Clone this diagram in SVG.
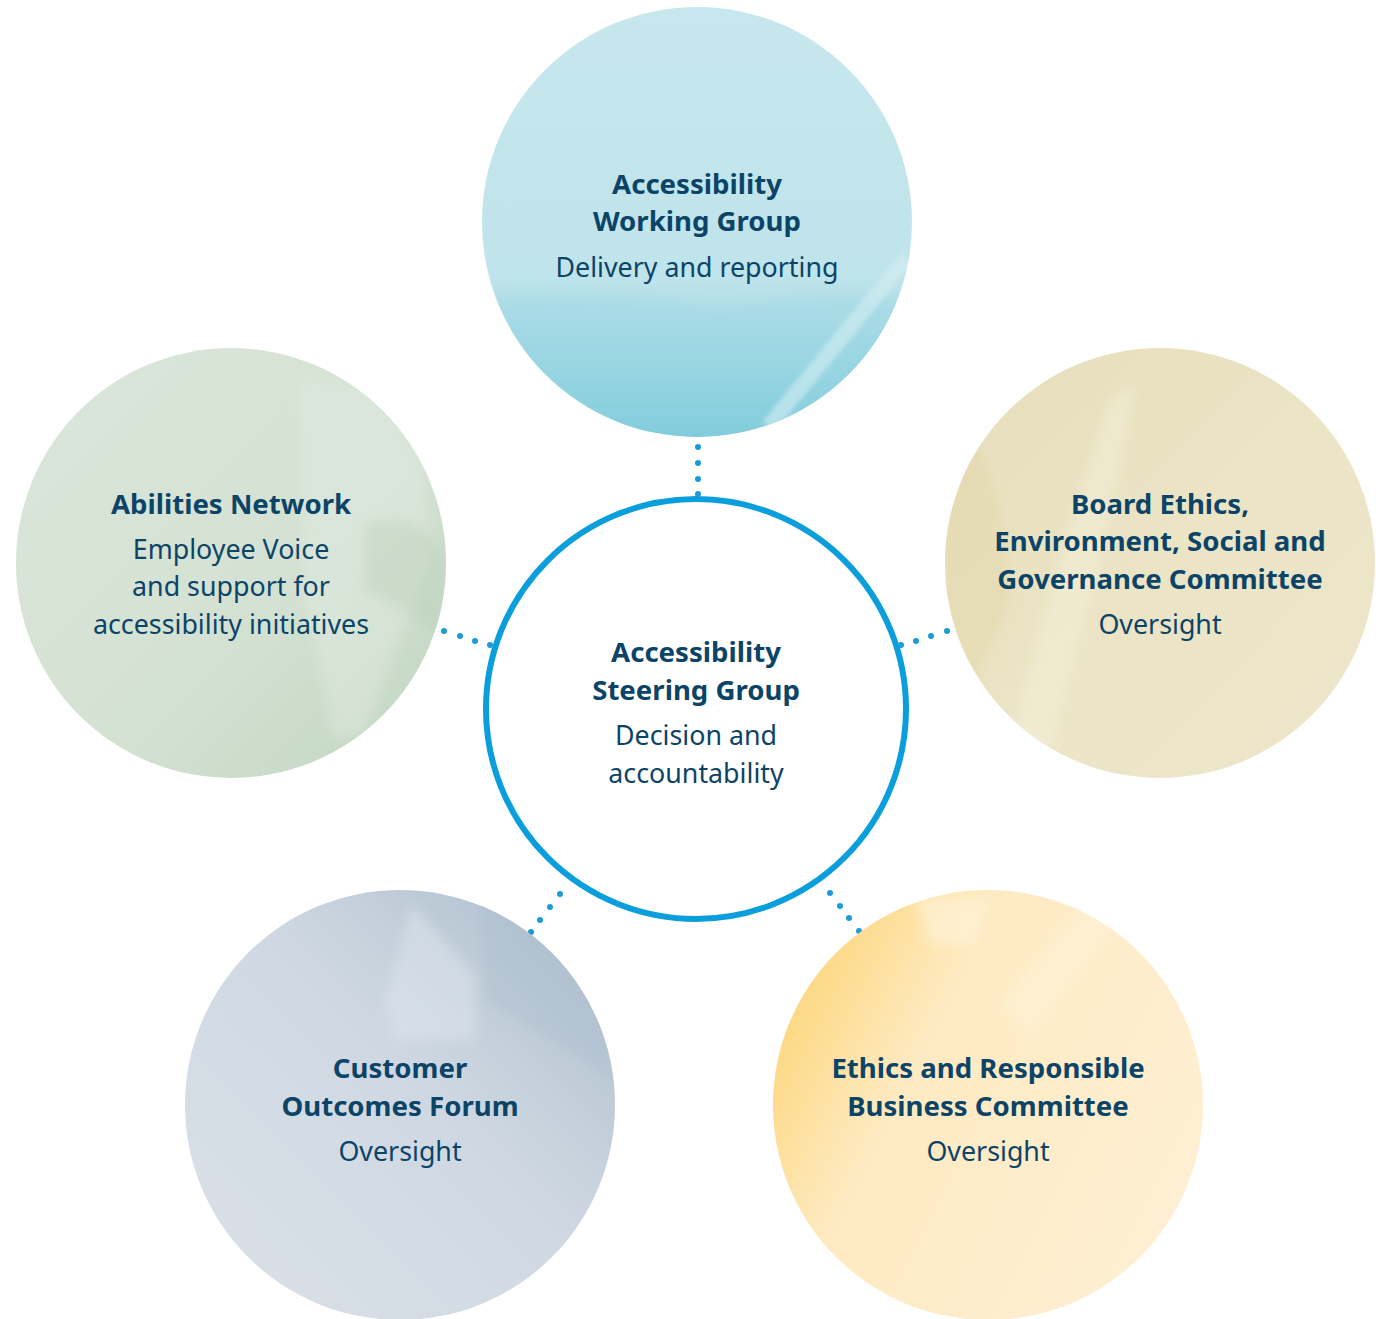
<svg xmlns="http://www.w3.org/2000/svg" width="1382" height="1319" viewBox="0 0 1382 1319">
<style>
.t{font-family:"Noto Sans","Open Sans","Liberation Sans",sans-serif;fill:#0c4468;text-anchor:middle;font-size:26.8px}
.b{font-weight:700;font-size:27.6px}
.dot{fill:#1b9bd7}
</style>
<defs>
<filter id="soft" x="-20%" y="-20%" width="140%" height="140%"><feGaussianBlur stdDeviation="6"/></filter>
<filter id="soft2" x="-20%" y="-20%" width="140%" height="140%"><feGaussianBlur stdDeviation="2"/></filter>
<linearGradient id="gTop" x1="0" y1="0" x2="0" y2="1">
<stop offset="0" stop-color="#c6e7ed"/><stop offset="0.62" stop-color="#c0e4eb"/><stop offset="0.72" stop-color="#aedde7"/><stop offset="1" stop-color="#76c8da"/>
</linearGradient>
<linearGradient id="gLeft" x1="0" y1="0" x2="1" y2="1">
<stop offset="0" stop-color="#dbe6da"/><stop offset="0.6" stop-color="#d3e1d2"/><stop offset="1" stop-color="#c0d5c0"/>
</linearGradient>
<linearGradient id="gRight" x1="0" y1="0" x2="1" y2="1">
<stop offset="0" stop-color="#e6debb"/><stop offset="0.5" stop-color="#ebe4c5"/><stop offset="1" stop-color="#ede6cb"/>
</linearGradient>
<linearGradient id="gBL" x1="1" y1="0" x2="0" y2="1">
<stop offset="0" stop-color="#a9bccb"/><stop offset="0.45" stop-color="#cfd8e2"/><stop offset="1" stop-color="#dbe1e8"/>
</linearGradient>
<linearGradient id="gBR" x1="0" y1="0.3" x2="1" y2="0.8">
<stop offset="0" stop-color="#fdd77e"/><stop offset="0.3" stop-color="#feeac2"/><stop offset="1" stop-color="#fef0d5"/>
</linearGradient>
<clipPath id="cTop"><circle cx="697" cy="222" r="215"/></clipPath>
<clipPath id="cLeft"><circle cx="231" cy="563" r="215"/></clipPath>
<clipPath id="cRight"><circle cx="1160" cy="563" r="215"/></clipPath>
<clipPath id="cBL"><circle cx="400" cy="1105" r="215"/></clipPath>
<clipPath id="cBR"><circle cx="988" cy="1105" r="215"/></clipPath>
</defs>
<rect width="1382" height="1319" fill="#ffffff"/>

<g id="connectors">
<circle class="dot" cx="698" cy="447" r="3"/><circle class="dot" cx="698" cy="463" r="3"/><circle class="dot" cx="698" cy="479" r="3"/><circle class="dot" cx="698" cy="494" r="3"/>
<circle class="dot" cx="444" cy="631" r="3"/><circle class="dot" cx="460" cy="636" r="3"/><circle class="dot" cx="475" cy="641" r="3"/><circle class="dot" cx="490" cy="645" r="3"/>
<circle class="dot" cx="901" cy="645" r="3"/><circle class="dot" cx="916" cy="641" r="3"/><circle class="dot" cx="931" cy="636" r="3"/><circle class="dot" cx="947" cy="631" r="3"/>
<circle class="dot" cx="531" cy="932" r="3"/><circle class="dot" cx="540" cy="920" r="3"/><circle class="dot" cx="550" cy="907" r="3"/><circle class="dot" cx="560" cy="894" r="3"/>
<circle class="dot" cx="830" cy="893" r="3"/><circle class="dot" cx="840" cy="906" r="3"/><circle class="dot" cx="849" cy="918" r="3"/><circle class="dot" cx="859" cy="931" r="3"/>
</g>

<g id="node-working-group">
<circle cx="697" cy="222" r="215" fill="url(#gTop)"/>
<g clip-path="url(#cTop)">
<path d="M482 300 Q600 285 720 310 Q830 290 913 300 L913 440 L482 440 Z" fill="#9ad6e3" opacity="0.35" filter="url(#soft)"/>
<path d="M762 422 L902 252 L912 264 L776 430 Z" fill="#d4eef3" opacity="0.6" filter="url(#soft2)"/>
</g>
<text class="t b" x="697" y="194">Accessibility</text>
<text class="t b" x="697" y="231">Working Group</text>
<text class="t" x="697" y="277">Delivery and reporting</text>
</g>

<g id="node-abilities-network">
<circle cx="231" cy="563" r="215" fill="url(#gLeft)"/>
<g clip-path="url(#cLeft)" filter="url(#soft)">
<path d="M300 380 L380 390 L425 470 L430 560 L365 730 L335 740 L305 600 Z" fill="#e3ece2" opacity="0.45"/>
<path d="M365 525 Q420 505 446 560 L446 640 Q400 605 365 590 Z" fill="#b9d0ba" opacity="0.4"/>
</g>
<text class="t b" x="231" y="514">Abilities Network</text>
<text class="t" x="231" y="559">Employee Voice</text>
<text class="t" x="231" y="596">and support for</text>
<text class="t" x="231" y="634">accessibility initiatives</text>
</g>

<g id="node-board-committee">
<circle cx="1160" cy="563" r="215" fill="url(#gRight)"/>
<g clip-path="url(#cRight)" filter="url(#soft)">
<path d="M1010 740 L1060 560 L1110 400 L1135 385 L1100 560 L1050 760 Z" fill="#f3eed8" opacity="0.55"/>
<path d="M945 420 Q1000 440 1010 600 L960 720 L945 600 Z" fill="#e0d5a5" opacity="0.4"/>
</g>
<text class="t b" x="1160" y="514">Board Ethics,</text>
<text class="t b" x="1160" y="551">Environment, Social and</text>
<text class="t b" x="1160" y="589">Governance Committee</text>
<text class="t" x="1160" y="634">Oversight</text>
</g>

<g id="node-customer-forum">
<circle cx="400" cy="1105" r="215" fill="url(#gBL)"/>
<g clip-path="url(#cBL)" filter="url(#soft)">
<path d="M385 1000 L412 905 L475 975 L475 1040 L395 1040 Z" fill="#e2e8ef" opacity="0.45"/>
<path d="M480 890 L615 890 L615 1080 L485 1000 Z" fill="#a3b7c8" opacity="0.25"/>
</g>
<text class="t b" x="400" y="1078">Customer</text>
<text class="t b" x="400" y="1116">Outcomes Forum</text>
<text class="t" x="400" y="1161">Oversight</text>
</g>

<g id="node-ethics-committee">
<circle cx="988" cy="1105" r="215" fill="url(#gBR)"/>
<g clip-path="url(#cBR)" filter="url(#soft)">
<path d="M915 895 L990 895 L975 945 L930 945 Z" fill="#fff3dc" opacity="0.6"/>
<path d="M1000 1000 L1090 900 L1120 920 L1030 1040 Z" fill="#fff4de" opacity="0.4"/>
</g>
<text class="t b" x="988" y="1078">Ethics and Responsible</text>
<text class="t b" x="988" y="1116">Business Committee</text>
<text class="t" x="988" y="1161">Oversight</text>
</g>

<g id="node-steering-group">
<circle cx="696" cy="709" r="210" fill="#ffffff" stroke="#0a9fdc" stroke-width="6"/>
<text class="t b" x="696" y="662">Accessibility</text>
<text class="t b" x="696" y="700">Steering Group</text>
<text class="t" x="696" y="745">Decision and</text>
<text class="t" x="696" y="783">accountability</text>
</g>
</svg>
